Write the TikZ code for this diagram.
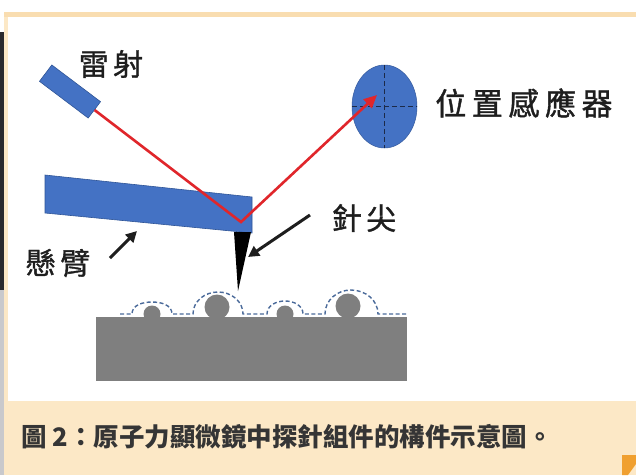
\documentclass[tikz,border=0pt]{standalone}
\usepackage{fontspec}
\newfontfamily\cjk{Noto Sans CJK TC}
\newfontfamily\cjkwide{Noto Sans CJK TC}[LetterSpace=15,FakeBold=1.2]
\newfontfamily\cjkwider{Noto Sans CJK TC}[LetterSpace=18,FakeBold=1.2]
\usetikzlibrary{arrows.meta,shapes.geometric}

\definecolor{peach}{HTML}{FCE8C6}
\definecolor{peachline}{HTML}{F9DDB0}
\definecolor{cornerorange}{HTML}{F0A030}
\definecolor{darkstrip}{HTML}{2A2A2E}
\definecolor{lightstrip}{HTML}{C9C9CC}
\definecolor{partblue}{HTML}{4472C4}
\definecolor{edgeblue}{HTML}{2F5597}
\definecolor{crossnavy}{HTML}{1C2A48}
\definecolor{beamred}{HTML}{E0262B}
\definecolor{stagegray}{HTML}{7F7F7F}
\definecolor{profileblue}{HTML}{4A6A9A}
\definecolor{labelink}{HTML}{1E1E1E}
\definecolor{captionink}{HTML}{353535}

\tikzset{
  bluepart/.style={fill=partblue, draw=edgeblue, line width=0.6pt},
  laserbox/.style={bluepart, minimum width=61pt, minimum height=20.5pt, inner sep=0pt},
  sensorbox/.style={ellipse, fill=partblue, draw=partblue!80!black, line width=0.5pt,
    minimum width=65pt, minimum height=83pt, inner sep=0pt},
  crosshair/.style={crossnavy, line width=1.8pt, dash pattern=on 5pt off 3pt},
  beam/.style={beamred, line width=2.6pt, line join=miter,
    -{Triangle[length=13pt,width=12pt]}},
  pointer/.style={labelink, line width=3pt, -{Triangle[length=11pt,width=11pt]}},
  lbl/.style={text=labelink, inner sep=0pt, font=\cjkwide\fontsize{30}{30}\selectfont},
  lblwide/.style={text=labelink, inner sep=0pt, font=\cjkwider\fontsize{31}{31}\selectfont},
  profile/.style={profileblue, line width=1.4pt, dash pattern=on 4pt off 2.5pt},
}

\begin{document}
\begin{tikzpicture}[x=1pt,y=-1pt]
\useasboundingbox (0,0) rectangle (636,475);

% page background and frame
\fill[white] (0,0) rectangle (636,475);
\fill[darkstrip] (0,32) rectangle (4,290);
\fill[lightstrip] (0,290) rectangle (4,475);
\fill[peachline] (4,12) rectangle (636,17);
\fill[peach] (4,17) rectangle (8,475);
\fill[peach] (4,401) rectangle (636,475);
\fill[white] (8,17) rectangle (636,401);
\fill[cornerorange] (622,455) -- (636,455) -- (636,464) -- (628,475) -- (622,475) -- cycle;

% sample stage with surface atoms
\fill[stagegray] (96,317) rectangle (407,381);
\fill[stagegray] (152,314) circle[radius=8.5];
\fill[stagegray] (217,307) circle[radius=12.5];
\fill[stagegray] (285,314) circle[radius=8.5];
\fill[stagegray] (348,306) circle[radius=12.5];

% traced surface profile
\draw[profile] (120,314) -- (132,314)
  to[out=90,in=180] (152,302) to[out=0,in=90] (172,314) -- (193,314)
  to[out=90,in=180] (218,292) to[out=0,in=90] (243,314) -- (267,314)
  to[out=90,in=180] (285,301) to[out=0,in=90] (303,314) -- (325,314)
  to[out=90,in=180] (351,290) to[out=0,in=90] (378,314) -- (407,314);

% laser source
\node[laserbox, rotate=-37] (laser) at (70,91.5) {};

% cantilever and tip
\filldraw[bluepart] (45,175) coordinate (armtl) -- (252,197) coordinate (armtr)
  -- (252,233) coordinate (armbr) -- (45,213) coordinate (armbl) -- cycle;
\fill[black] (234,232) -- (251,232) -- (238,291) coordinate (tippoint) -- cycle;

% position sensor
\node[sensorbox] (sensor) at (384.5,106.5) {};
\draw[crosshair] (sensor.north) -- (sensor.south);
\draw[crosshair] (sensor.west) -- (sensor.east);

% laser beam reflected off the cantilever
\coordinate (refl) at (241,222);
\coordinate (hit) at (377,95);
\draw[beam] (laser.east) -- (refl) -- (hit);

% labels
\node[lbl] (laserlbl) at (111,64) {雷射};
\node[lblwide] (sensorlbl) at (524,103) {位置感應器};
\node[lbl] (tiplbl) at (364,218) {針尖};
\node[lbl] (armlbl) at (58,263) {懸臂};

% label pointers
\coordinate (tiptail) at (310,215);
\coordinate (tiphead) at (248,257);
\draw[pointer] (tiptail) -- (tiphead);
\coordinate (armtail) at (110,258);
\coordinate (armhead) at (137,231);
\draw[pointer] (armtail) -- (armhead);

% caption
\node[anchor=west, inner sep=0pt, text=captionink,
  font=\cjk\bfseries\fontsize{25.5}{25.5}\selectfont] (caption) at (21,437)
  {圖 2：原子力顯微鏡中探針組件的構件示意圖。};
\end{tikzpicture}
\end{document}
